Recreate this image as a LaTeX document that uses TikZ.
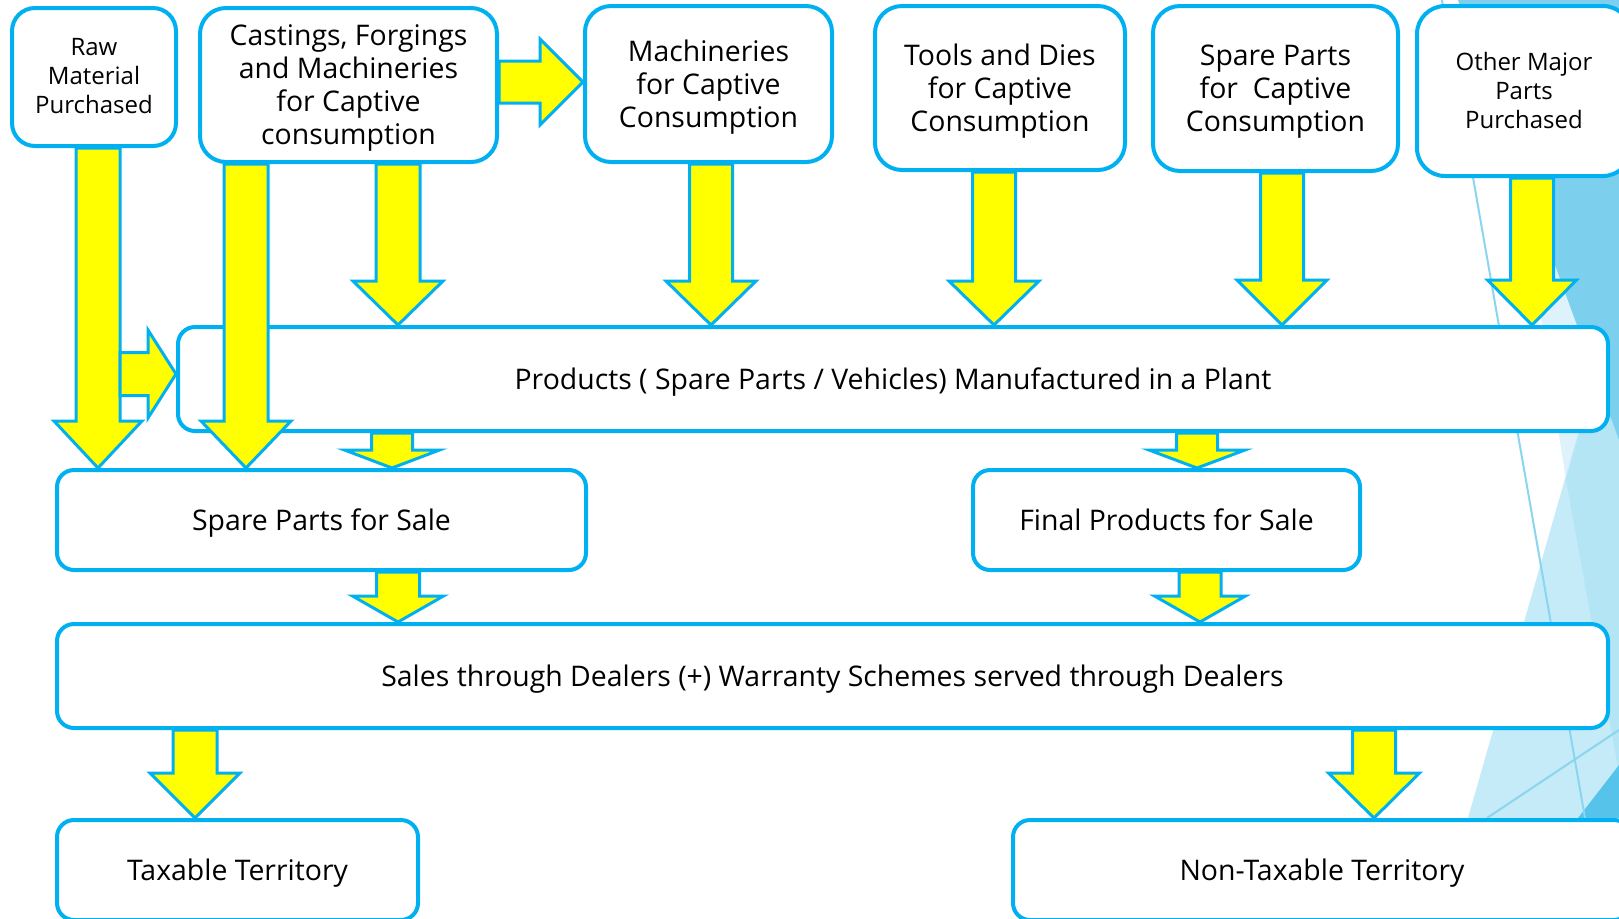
\documentclass[tikz,border=0pt]{standalone}
\usepackage{fontspec}
\setmainfont{Open Sans}
\usetikzlibrary{calc}
\definecolor{boxblue}{HTML}{00B0F0}
\definecolor{arrowyellow}{HTML}{FFFF00}
\definecolor{bgmed}{HTML}{7DCFEE}
\definecolor{bglight}{HTML}{C6EBF8}
\definecolor{bgmid}{HTML}{B3E5F5}
\definecolor{bgvlight}{HTML}{DDF2FB}
\definecolor{bgdark}{HTML}{56C4EA}
\definecolor{bgline}{HTML}{8AD5F0}
% #1 source node, #2 target node, #3 x (px), #4 shaft half width, #5 head half width, #6 head length
\newcommand\dnarrow[6]{%
  \coordinate (t) at (#3,0);
  \draw[barrow] ($(t |- #1.south)+(-#4,0)$) -- ($(t |- #2.north)+(-#4,-#6)$)
    -- ($(t |- #2.north)+(-#5,-#6)$) -- (t |- #2.north)
    -- ($(t |- #2.north)+(#5,-#6)$) -- ($(t |- #2.north)+(#4,-#6)$)
    -- ($(t |- #1.south)+(#4,0)$) -- cycle;}
\begin{document}
\begin{tikzpicture}[x=0.5pt,y=-0.5pt,
  box/.style={draw=boxblue, line width=2pt, fill=white, rounded corners=#1,
    align=center, inner sep=0pt, text=black},
  box/.default=8.5pt,
  bigtext/.style={font=\fontsize{14.2}{16.5}\selectfont, text depth=0pt},
  smalltext/.style={font=\fontsize{12}{14.5}\selectfont, text depth=1pt},
  barrow/.style={draw=boxblue, fill=arrowyellow, line width=1.5pt, line join=miter},
  bgthin/.style={draw=bgline, line width=1pt}]
\useasboundingbox (0,0) rectangle (1619,918);
\clip (0,0) rectangle (1619,918);
\fill[white] (0,0) rectangle (1619,918);
% background facets
\fill[bgvlight] (1566,480) -- (1492,0) -- (1619,0) -- (1619,290) -- cycle;
\fill[bglight] (1619,290) -- (1468,818) -- (1619,818) -- cycle;
\fill[bgmid] (1566,480) -- (1619,290) -- (1619,773) -- cycle;
\fill[bgmed] (1458,0) -- (1619,0) -- (1619,440) -- cycle;
\fill[bgdark] (1578,818) -- (1619,818) -- (1619,765) -- cycle;
\draw[bgthin] (1442,0) -- (1585,818);
\draw[bgthin] (1487,818) -- (1619,730);
% boxes
\node[box=11.5pt, smalltext, minimum width=82pt, minimum height=69pt] (raw) at (94,77) {Raw\\Material\\Purchased};
\node[box=13pt, bigtext, minimum width=148.5pt, minimum height=77pt] (cast) at (348.5,85) {Castings, Forgings\\and Machineries\\for Captive\\consumption};
\node[box=13pt, bigtext, minimum width=123.5pt, minimum height=78pt] (mach) at (708.5,84) {Machineries\\for Captive\\Consumption};
\node[box=13.5pt, bigtext, minimum width=125pt, minimum height=82pt] (tools) at (1000,88) {Tools and Dies\\for Captive\\Consumption};
\node[box=13.5pt, bigtext, minimum width=122.5pt, minimum height=82.5pt] (spcap) at (1275.5,88.5) {Spare Parts\\for\ \ Captive\\Consumption};
\node[box=14pt, smalltext, minimum width=107pt, minimum height=85pt] (other) at (1524,91) {Other Major\\Parts\\Purchased};
\node[box, bigtext, minimum width=715pt, minimum height=52pt] (prod) at (893,379) {Products ( Spare Parts / Vehicles) Manufactured in a Plant};
\node[box, bigtext, minimum width=264.5pt, minimum height=50pt] (ssale) at (321.5,520) {Spare Parts for Sale};
\node[box, bigtext, minimum width=193.5pt, minimum height=50pt] (final) at (1166.5,520) {Final Products for Sale};
\node[box, bigtext, minimum width=775.5pt, minimum height=52pt] (sales) at (832.5,676) {Sales through Dealers (+) Warranty Schemes served through Dealers};
\node[box, bigtext, minimum width=180.5pt, minimum height=50pt] (tax) at (237.5,870) {Taxable Territory};
\node[box, bigtext, minimum width=309pt, minimum height=50pt] (nontax) at (1322,870) {Non-Taxable Territory};
% down arrows
\dnarrow{raw}{ssale}{98}{22}{44}{47}
\dnarrow{cast}{ssale}{246}{22}{45}{47}
\dnarrow{cast}{prod}{398}{22}{45}{44}
\dnarrow{mach}{prod}{711}{21.5}{45}{44}
\dnarrow{tools}{prod}{994}{21.5}{45}{44}
\dnarrow{spcap}{prod}{1282}{21.5}{45}{45}
\dnarrow{other}{prod}{1532}{21.5}{44.5}{45}
\dnarrow{prod}{ssale}{392}{20.5}{47.5}{18}
\dnarrow{prod}{final}{1197}{20.5}{48}{18}
\dnarrow{ssale}{sales}{398}{21.5}{45.5}{26}
\dnarrow{final}{sales}{1200}{21}{45.5}{26}
\dnarrow{sales}{tax}{195}{22}{45}{45}
\dnarrow{sales}{nontax}{1374}{21.5}{45.5}{45}
% right arrows
\coordinate (h1) at (0,82);
\draw[barrow] ($(cast.east |- h1)+(0,-21)$) -- ($(mach.west |- h1)+(-43,-21)$)
  -- ($(mach.west |- h1)+(-43,-43)$) -- (mach.west |- h1)
  -- ($(mach.west |- h1)+(-43,43)$) -- ($(mach.west |- h1)+(-43,21)$)
  -- ($(cast.east |- h1)+(0,21)$) -- cycle;
\coordinate (rawside) at (120,374);
\draw[barrow] ($(rawside)+(0,-21.5)$) -- ($(prod.west |- rawside)+(-28,-21.5)$)
  -- ($(prod.west |- rawside)+(-28,-44)$) -- (prod.west |- rawside)
  -- ($(prod.west |- rawside)+(-28,44)$) -- ($(prod.west |- rawside)+(-28,21.5)$)
  -- ($(rawside)+(0,21.5)$) -- cycle;
\end{tikzpicture}
\end{document}
